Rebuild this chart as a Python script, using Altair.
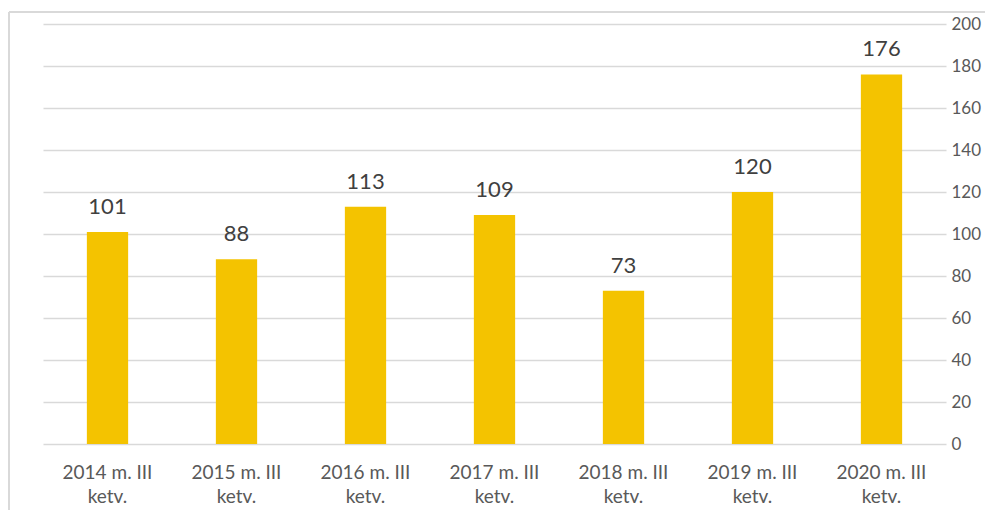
import altair as alt
import pandas as pd

categories = ["2014 m. III ketv.", "2015 m. III ketv.", "2016 m. III ketv.",
              "2017 m. III ketv.", "2018 m. III ketv.", "2019 m. III ketv.",
              "2020 m. III ketv."]
values = [101, 88, 113, 109, 73, 120, 176]
y_ticks = [0, 20, 40, 60, 80, 100, 120, 140, 160, 180, 200]

df = pd.DataFrame({"cat": categories, "val": values})

FONT = "Lato"
TXT = "#595959"
GRID = "#d9d9d9"

x_enc = alt.X("cat:N", sort=categories, title=None,
              scale=alt.Scale(paddingInner=0.68, paddingOuter=0.34),
              axis=alt.Axis(labelAngle=0, ticks=False, domain=False,
                            labelExpr="[replace(datum.label, ' ketv.', ''), 'ketv.']",
                            labelFont=FONT, labelFontSize=19, labelColor=TXT,
                            labelPadding=28, labelLineHeight=24,
                            labelBaseline="middle"))
y_enc = alt.Y("val:Q", title=None,
              scale=alt.Scale(domain=[0, 200], nice=False),
              axis=alt.Axis(orient="right", values=y_ticks, ticks=False,
                            domain=False, labelFont=FONT, labelFontSize=17,
                            labelColor=TXT, labelPadding=5, grid=True,
                            gridColor=GRID, gridWidth=1.5))

bars = alt.Chart(df).mark_bar(color="#F4C300").encode(x=x_enc, y=y_enc)
labels = alt.Chart(df).mark_text(font=FONT, fontSize=22, color="#404040",
                                 baseline="bottom", dy=-13).encode(
    x=alt.X("cat:N", sort=categories), y="val:Q", text="val:Q")

border_v = alt.Chart(df).mark_rule(color=GRID, strokeWidth=2).encode(
    x=alt.value(-34), y=alt.value(-12), y2=alt.value(520))
border_h = alt.Chart(df).mark_rule(color=GRID, strokeWidth=2).encode(
    x=alt.value(-34), x2=alt.value(1000), y=alt.value(-12))

chart = alt.layer(border_v, border_h, bars, labels).properties(
    width=903, height=420,
    autosize=alt.AutoSizeParams(type="none"),
    padding={"left": 35, "top": 16, "right": 39, "bottom": 66},
).configure(background="white", view=alt.ViewConfig(stroke=None))

chart.save("out.html", embed_options={"renderer": "svg", "actions": False})
